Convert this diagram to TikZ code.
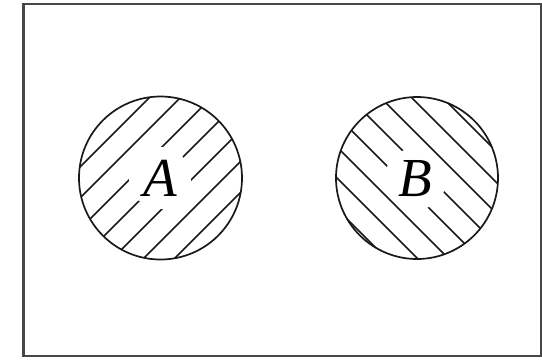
\documentclass[tikz,border=0pt]{standalone}
\usepackage{fontspec}
\setmainfont{Liberation Serif}
\begin{document}
\begin{tikzpicture}[x=1pt,y=-1pt,
  frame/.style={draw=black!72,line width=2.6pt},
  setcircle/.style={circle,draw=black!90,line width=1.7pt,minimum size=163pt,inner sep=0pt},
  hatch/.style={draw=black!90,line width=1.45pt},
  setlabel/.style={circle,fill=white,minimum size=62pt,inner sep=0pt,
    font=\fontsize{55}{55}\selectfont\itshape}]
\useasboundingbox (0,0) rectangle (542,360);
\draw[frame] (23.5,4) rectangle (541,356);
% hatching of A
\begin{scope}
  \clip (160.5,178) circle (81.5);
  \foreach \k in {-3,...,3}{
    \pgfmathsetmacro{\s}{340+31*\k}
    \draw[hatch] (\s-300,300) -- (\s+300,-300);
  }
\end{scope}
% hatching of B
\begin{scope}
  \clip (417,178) circle (81);
  \foreach \k in {-4,...,3}{
    \pgfmathsetmacro{\d}{252+31*\k}
    \draw[hatch] (\d-100,-100) -- (\d+500,500);
  }
\end{scope}
\node[setlabel] (labA) at (160,178) {A};
\node[setlabel] (labB) at (415.5,179) {B};
\node[setcircle] (cA) at (160.5,178) {};
\node[setcircle,minimum size=162pt] (cB) at (417,178) {};
\end{tikzpicture}
\end{document}
